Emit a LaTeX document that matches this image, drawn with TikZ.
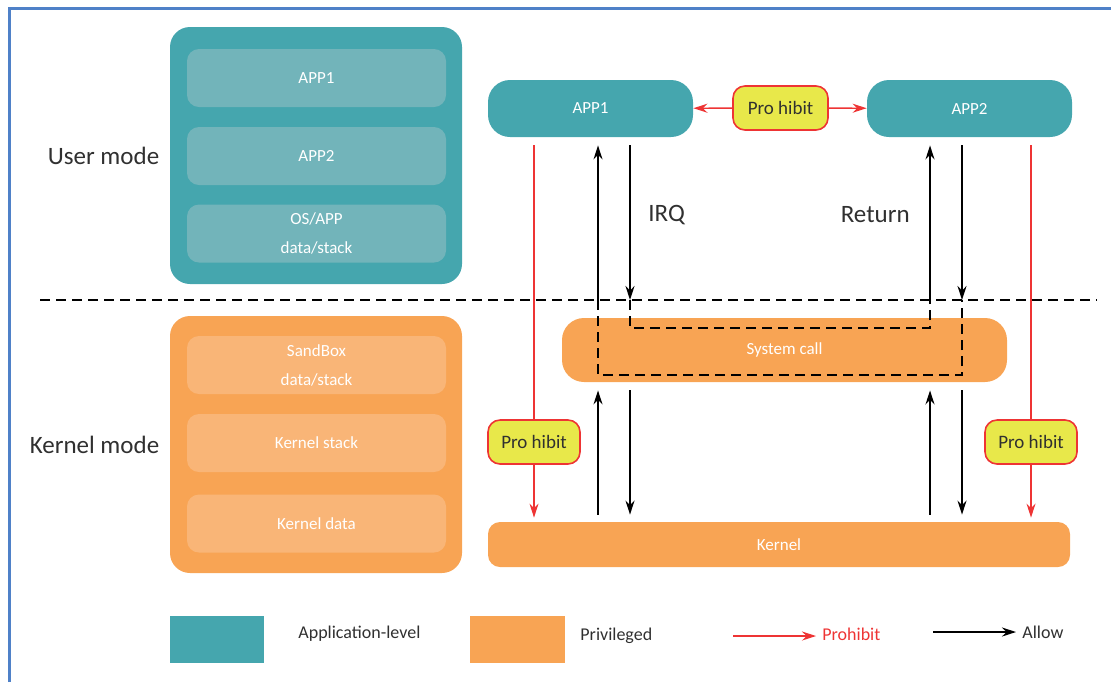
\documentclass[tikz,border=0pt]{standalone}
\usepackage{fontspec}
\setmainfont{Carlito}
\usetikzlibrary{positioning,arrows.meta}

\definecolor{appteal}{HTML}{45A6AE}
\definecolor{applight}{HTML}{72B4BA}
\definecolor{privorange}{HTML}{F8A454}
\definecolor{privlight}{HTML}{F9B577}
\definecolor{hibityellow}{HTML}{E8E84A}
\definecolor{prored}{HTML}{EE3434}
\definecolor{frameblue}{HTML}{4F81C8}
\definecolor{darktext}{HTML}{303030}

\tikzset{
  outerbox/.style={rounded corners=10pt, minimum width=146pt, minimum height=128.5pt, inner sep=0pt},
  layer/.style={rounded corners=6pt, minimum width=129.5pt, minimum height=29pt, inner sep=0pt,
    text=white, align=center, font=\fontsize{8.5}{14.5}\selectfont},
  appbox/.style={fill=appteal, rounded corners=11pt, minimum width=102.5pt, minimum height=28.5pt,
    text=white, font=\fontsize{8.5}{10}\selectfont},
  kbox/.style={fill=privorange, text=white, font=\fontsize{8.5}{10}\selectfont},
  hibit/.style={fill=hibityellow, draw=prored, line width=0.8pt, rounded corners=6pt,
    minimum width=46pt, minimum height=22pt, inner sep=0pt, text=darktext, font=\fontsize{9.5}{10}\selectfont},
  mode/.style={inner sep=0pt, text=darktext, font=\fontsize{12.5}{15}\selectfont},
  legtext/.style={inner sep=0pt, anchor=west, text=darktext, font=\fontsize{9}{10}\selectfont},
  allow/.style={-{Stealth[length=7pt,width=4.5pt]}, line width=0.9pt},
  prohibit/.style={-{Stealth[length=7pt,width=4.5pt]}, draw=prored, line width=0.7pt},
  trace/.style={dashed, dash pattern=on 5pt off 3pt, line width=0.8pt},
}

\begin{document}
\begin{tikzpicture}[x=0.5pt,y=-0.5pt]
  \useasboundingbox (0,0) rectangle (1111,682);
  \draw[frameblue, line width=1.5pt] (9,682) -- (9,8) -- (1111,8);

  % memory layout
  \node[outerbox, fill=appteal] (ubox) at (316,155.5) {};
  \node[layer, fill=applight] (uapp1) at (316.5,78) {APP1};
  \node[layer, fill=applight] (uapp2) at (316.5,156) {APP2};
  \node[layer, fill=applight] (udata) at (316.5,233.5) {OS/APP\\data/stack};
  \node[mode, left=5pt of ubox] (umode) {User mode};

  \node[outerbox, fill=privorange] (kbox) at (316,444.5) {};
  \node[layer, fill=privlight] (ksand) at (316.5,365) {SandBox\\data/stack};
  \node[layer, fill=privlight] (kstack) at (316.5,443) {Kernel stack};
  \node[layer, fill=privlight] (kdata) at (316.5,523.5) {Kernel data};
  \node[mode, left=5pt of kbox] (kmode) {Kernel mode};

  % mode boundary and lanes
  \coordinate (bl) at (40,300);
  \coordinate (br) at (1097,300);
  \coordinate (x1) at (598,300);
  \coordinate (x2) at (630,300);
  \coordinate (x3) at (930,300);
  \coordinate (x4) at (962,300);
  \draw[trace] (bl) -- (br);

  % right side
  \node[appbox] (app1) at (590.5,108.5) {APP1};
  \node[appbox] (app2) at (969.5,108.5) {APP2};
  \node[hibit, minimum width=47.5pt] (pht) at (780.5,108) {Pro hibit};
  \node[kbox, rounded corners=11pt, minimum width=222.5pt, minimum height=32pt] (syscall) at (784.5,350) {System call};
  \node[kbox, rounded corners=6pt, minimum width=291pt, minimum height=22.5pt] (kernel) at (779,544.5) {Kernel};
  \node[hibit] (phl) at (534,442) {Pro hibit};
  \node[hibit] (phr) at (1031,442) {Pro hibit};

  \draw[prohibit] (pht) -- (app1);
  \draw[prohibit] (pht) -- (app2);
  \draw[prored, line width=0.7pt, shorten <=4pt] (app1.south -| phl) -- (phl);
  \draw[prohibit, shorten >=2pt] (phl) -- (kernel.north -| phl);
  \draw[prored, line width=0.7pt, shorten <=4pt] (app2.south -| phr) -- (phr);
  \draw[prohibit, shorten >=2pt] (phr) -- (kernel.north -| phr);

  % IRQ and return paths
  \draw[allow, shorten >=4pt] (x1) -- (app1.south -| x1);
  \draw[allow, shorten <=4pt] (app1.south -| x2) -- (x2);
  \draw[allow, shorten >=4pt] (x3) -- (app2.south -| x3);
  \draw[allow, shorten <=4pt] (app2.south -| x4) -- (x4);
  \draw[trace] (x1) -- ++(0,75) -| (x4);
  \draw[trace] (x2) -- ++(0,28) -| (x3);
  \node[mode, right=9pt of x2, yshift=42.5pt] (irq) {IRQ};
  \node[mode, left=10pt of x3, yshift=42.5pt] (ret) {Return};

  \draw[allow, shorten <=3.5pt, shorten >=4pt] (kernel.north -| x1) -- (syscall.south -| x1);
  \draw[allow, shorten <=4pt, shorten >=3.5pt] (syscall.south -| x2) -- (kernel.north -| x2);
  \draw[allow, shorten <=3.5pt, shorten >=4pt] (kernel.north -| x3) -- (syscall.south -| x3);
  \draw[allow, shorten <=4pt, shorten >=3.5pt] (syscall.south -| x4) -- (kernel.north -| x4);

  % legend
  \node[fill=appteal, minimum width=47pt, minimum height=23.5pt] (lapp) at (217,639.5) {};
  \node[legtext] (lapptxt) at (298,634) {Application-level};
  \node[fill=privorange, minimum width=47.5pt, minimum height=23.5pt] (lpriv) at (517.5,639.5) {};
  \node[legtext] (lprivtxt) at (580,636) {Privileged};
  \node[legtext, text=prored] (lprotxt) at (822,634) {Prohibit};
  \coordinate (lprostart) at (733,636);
  \draw[prohibit, shorten >=3pt] (lprostart) -- (lprotxt.west |- lprostart);
  \node[legtext] (lallowtxt) at (1022,632) {Allow};
  \coordinate (lallowstart) at (933,632);
  \draw[allow, shorten >=3pt] (lallowstart) -- (lallowtxt.west |- lallowstart);
\end{tikzpicture}
\end{document}
